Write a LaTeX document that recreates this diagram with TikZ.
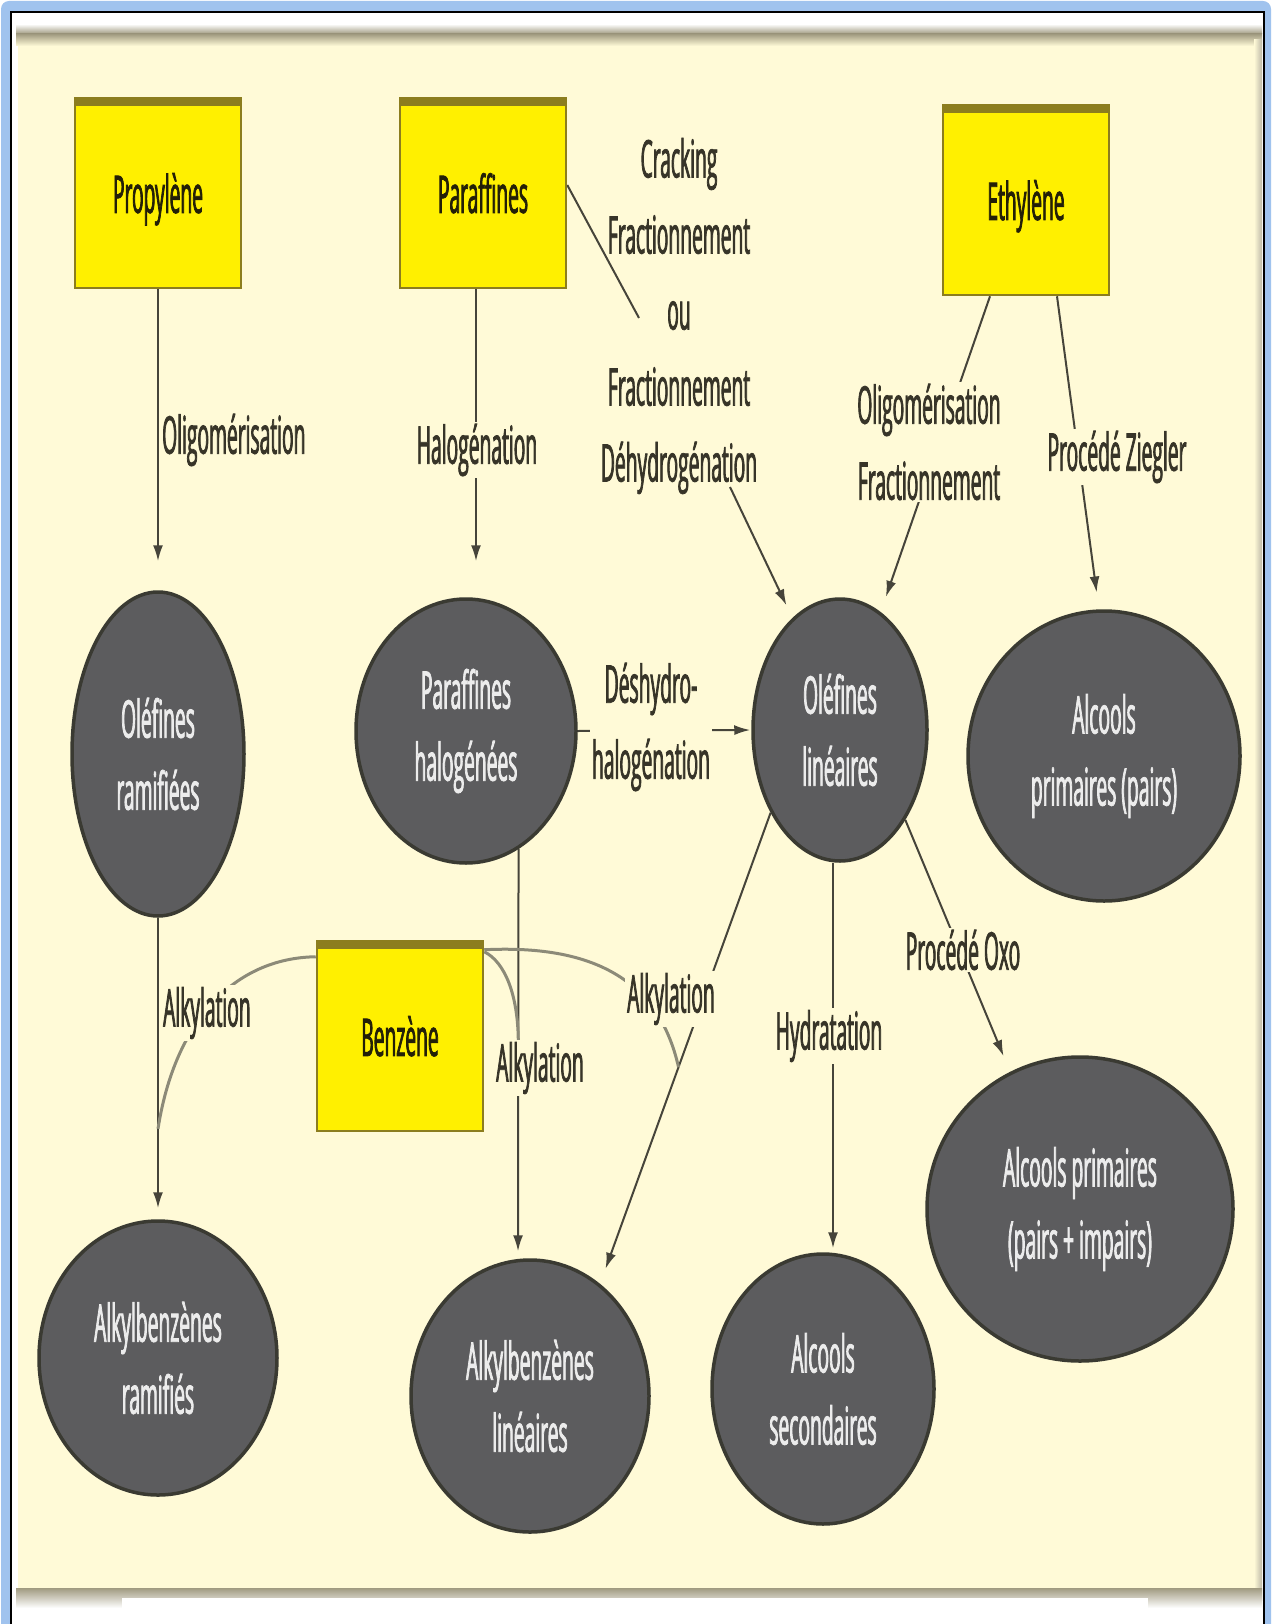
\documentclass[tikz,border=0pt]{standalone}
\usepackage{fontspec}
\setmainfont{Open Sans}[FakeStretch=0.37,FakeBold=1.4]
\usetikzlibrary{shapes.geometric,arrows.meta,calc}
\definecolor{cream}{RGB}{255,250,215}
\definecolor{boxyel}{RGB}{255,240,0}
\definecolor{boxedge}{RGB}{140,125,30}
\definecolor{ellfill}{RGB}{92,92,94}
\definecolor{elledge}{RGB}{58,58,50}
\definecolor{elltext}{RGB}{236,236,236}
\definecolor{labtext}{RGB}{55,52,40}
\definecolor{linecol}{RGB}{70,68,58}
\definecolor{benzcol}{RGB}{140,138,120}
\definecolor{frameblue}{RGB}{160,195,238}
\definecolor{shadegray}{RGB}{160,154,128}
\pgfdeclarelayer{bg}
\pgfdeclarelayer{lines}
\pgfsetlayers{bg,lines,main}
\begin{document}
\begin{tikzpicture}[x=1pt,y=-1pt,
 ybox/.style={draw=boxedge, line width=2.5pt, fill=boxyel, minimum width=166pt, minimum height=190pt, inner sep=0pt,
   text=black!75!boxedge, font=\fontsize{52}{72}\selectfont, text depth=0pt,
   path picture={\fill[boxedge] (path picture bounding box.north west) rectangle ([yshift=-8pt]path picture bounding box.north east);}},
 prod/.style={ellipse, draw=elledge, line width=3.5pt, fill=ellfill, inner sep=0pt, text=elltext, align=center, font=\fontsize{52}{72}\selectfont},
 lab/.style={text=labtext, align=center, font=\fontsize{52}{76}\selectfont, inner sep=2pt},
 labf/.style={lab, fill=cream},
 arr/.style={draw=linecol, line width=2pt, -{Latex[length=16pt,width=10pt]}},
 ln/.style={draw=linecol, line width=2pt},
 benzl/.style={draw=benzcol, line width=3pt},
]
% frame
\path[use as bounding box] (0,0) rectangle (1272,1624);
\begin{pgfonlayer}{bg}
\fill[white] (0,0) rectangle (1272,1624);
\fill[frameblue, rounded corners=8pt] (1,1) rectangle (1271,1660);
\draw[black, line width=2.5pt, fill=white] (11,12) rectangle (1264,1660);
\shade[top color=white, bottom color=shadegray] (16,24) rectangle (1262,34);
\shade[top color=shadegray, bottom color=cream] (16,34) rectangle (1262,46);
\fill[cream] (18,46) rectangle (1260,1590);
\shade[left color=cream, right color=shadegray!70] (1254,40) rectangle (1262,1600);
\shade[top color=shadegray, bottom color=white] (16,1588) rectangle (1262,1608);
\fill[white] (122,1598) rectangle (1148,1624);
\end{pgfonlayer}

% boxes
\node[ybox] (prop) at (158,193) {Propylène};
\node[ybox] (parb) at (483,193) {Paraffines};
\node[ybox] (ethy) at (1026,200) {Ethylène};
\node[ybox] (benz) at (400,1036) {Benzène};

% ellipses
\node[prod, minimum width=172pt, minimum height=324pt] (oram) at (158,754) {Oléfines\\ramifiées};
\node[prod, minimum width=220pt, minimum height=264pt] (phal) at (466,731) {Paraffines\\halogénées};
\node[prod, minimum width=174pt, minimum height=262pt] (olin) at (840,730) {Oléfines\\linéaires};
\node[prod, minimum width=272pt, minimum height=290pt] (apair) at (1104,756) {Alcools\\primaires (pairs)};
\node[prod, minimum width=306pt, minimum height=304pt] (apim) at (1080,1209) {Alcools primaires\\(pairs + impairs)};
\node[prod, minimum width=238pt, minimum height=274pt] (aram) at (158,1358) {Alkylbenzènes\\ramifiés};
\node[prod, minimum width=238pt, minimum height=272pt] (alin) at (530,1396) {Alkylbenzènes\\linéaires};
\node[prod, minimum width=222pt, minimum height=270pt] (asec) at (823,1389) {Alcools\\secondaires};

% labels
\node[lab, anchor=west] (lolig1) at (160,440) {Oligomérisation};
\node[labf] (lhal) at (477,450) {Halogénation};
\node[lab] (lcrack) at (679,316) {Cracking\\Fractionnement\\ou\\Fractionnement\\Déhydrogénation};
\node[labf] (lolig2) at (929,442) {Oligomérisation\\Fractionnement};
\node[labf] (lzieg) at (1117,457) {Procédé Ziegler};
\node[labf] (ldesh) at (651,727) {Déshydro-\\halogénation};
\node[labf, anchor=west] (lalk1) at (161,1013) {Alkylation};
\node[labf] (lalk2) at (540,1068) {Alkylation};
\node[labf] (lalk3) at (671,999) {Alkylation};
\node[labf] (lhyd) at (829,1036) {Hydratation};
\node[labf] (loxo) at (963,950) {Procédé Oxo};

\coordinate (c1) at (639,318);
\coordinate (c2) at (730,487);

\begin{pgfonlayer}{lines}
\draw[arr, shorten >=29pt] (prop.south) -- (oram.north);
\draw[arr, shorten >=36pt] ([xshift=-7pt]parb.south) -- ([xshift=10pt]phal.north);
\draw[ln] ([yshift=8pt]parb.east) -- (c1);
\draw[arr, shorten >=14pt] (c2) -- (olin.113);
\draw[arr, shorten >=16pt] ([xshift=-36pt]ethy.south) -- (olin.71);
\draw[arr, shorten >=17pt] ([xshift=31pt]ethy.south) -- (apair.92);
\draw[arr, shorten >=1pt] (phal.east) -- (olin.west);
\draw[arr, shorten >=11pt] (oram.south) -- (aram.north);
\draw[arr, shorten >=7pt] (phal.-66) -- ([xshift=-12pt]alin.north);
\draw[arr, shorten >=16pt] (olin.230) -- (alin.58);
\draw[arr, shorten >=4pt] ([xshift=-7pt]olin.south) -- ([xshift=10pt]asec.north);
\draw[arr, shorten >=17pt] (olin.-54) -- (apim.117);
\coordinate (mL) at ($(oram.south)!0.7!(aram.north)$);
\coordinate (mR) at ($(olin.230)!0.54!(alin.58)$);
\coordinate (mM) at ($(phal.-66)!0.47!([xshift=-12pt]alin.north)$);
\draw[benzl] ([yshift=-17pt]benz.north west) .. controls (235,958) and (175,1020) .. (mL);
\draw[benzl] ([yshift=-10pt]benz.north east) .. controls (600,944) and (660,985) .. (mR);
\draw[benzl] ([yshift=-12pt]benz.north east) .. controls (505,962) and (518,995) .. (mM);
\end{pgfonlayer}
\end{tikzpicture}
\end{document}
